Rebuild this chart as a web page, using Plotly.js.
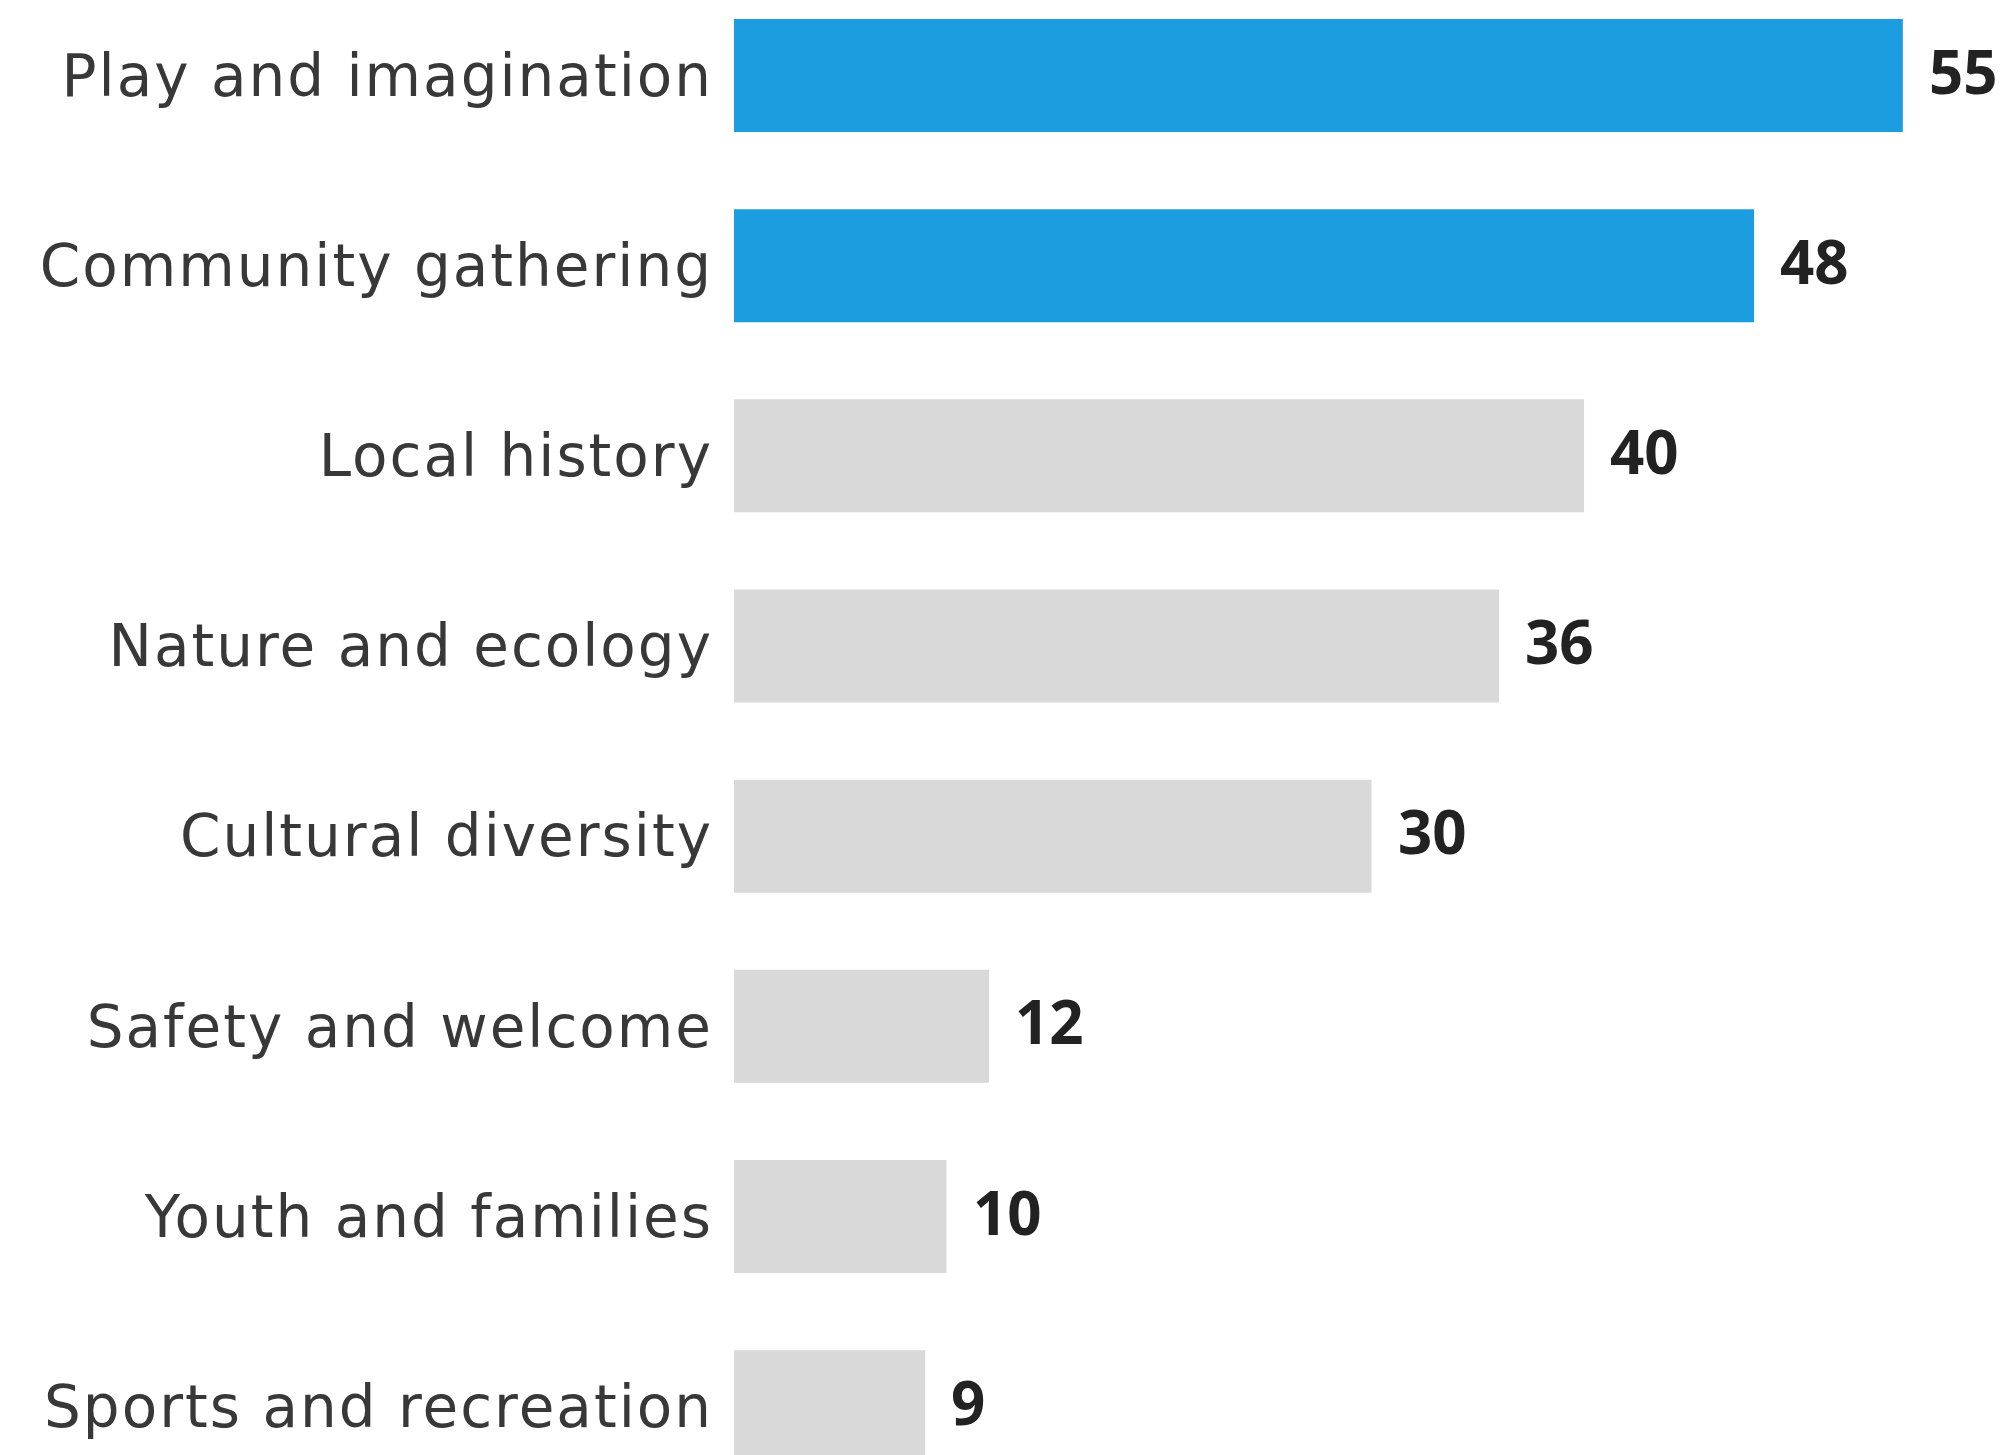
<!DOCTYPE html>
<html>
<head>
<meta charset="utf-8">
<script src="https://cdn.plot.ly/plotly-3.0.1.min.js"></script>
<style>
html,body{margin:0;padding:0;background:#fff;}
#chart{width:2008px;height:1455px;}
#chart .ytick text{letter-spacing:2px;}
</style>
</head>
<body>
<div id="chart"></div>
<script>
const categories = ["Play and imagination","Community gathering","Local history","Nature and ecology","Cultural diversity","Safety and welcome","Youth and families","Sports and recreation"];
const values = [55,48,40,36,30,12,10,9];
const highlighted = [true,true,false,false,false,false,false,false];

const blue = "#1b9ddf";
const gray = "#d9d9d9";

const trace = {
  type: "bar",
  orientation: "h",
  x: values,
  y: categories,
  marker: {color: highlighted.map(h => h ? blue : gray)},
  hoverinfo: "none"
};

const annotations = categories.map((c, i) => ({
  x: values[i],
  y: c,
  xref: "x",
  yref: "y",
  text: String(values[i]),
  showarrow: false,
  xanchor: "left",
  yanchor: "middle",
  xshift: 24,
  yshift: 5,
  font: {family: "Open Sans", size: 60, color: "#222", weight: 700}
}));

const layout = {
  width: 2008,
  height: 1455,
  margin: {l: 734, r: 0, t: 0, b: 0},
  paper_bgcolor: "#fff",
  plot_bgcolor: "#fff",
  bargap: 0.406,
  showlegend: false,
  xaxis: {range: [0, 59.95], visible: false, fixedrange: true},
  yaxis: {
    type: "category",
    categoryorder: "array",
    categoryarray: categories,
    range: [7.254, -0.397],
    showgrid: false, zeroline: false, showline: false,
    ticks: "",
    ticklabelstandoff: 20,
    automargin: false,
    tickfont: {family: "DejaVu Sans", size: 58, color: "#383838"}
  },
  annotations: annotations
};

Plotly.newPlot("chart", [trace], layout, {staticPlot: true});
</script>
</body>
</html>
